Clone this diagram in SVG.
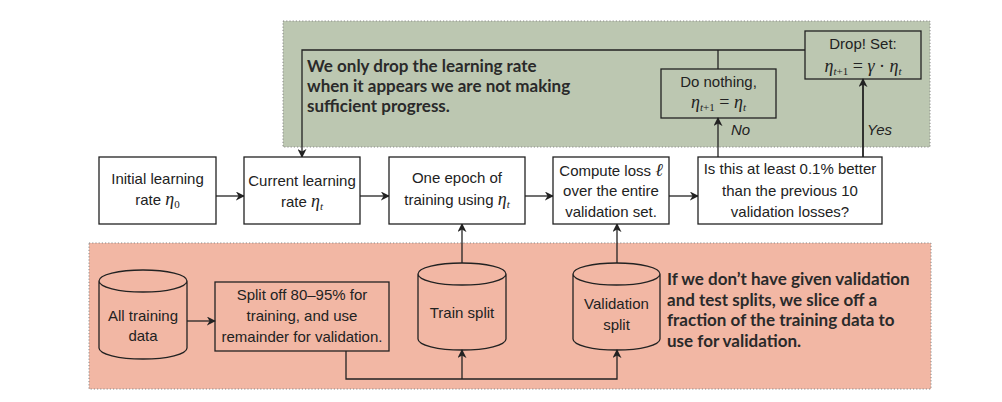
<svg xmlns="http://www.w3.org/2000/svg" width="1002" height="402" viewBox="0 0 1002 402">
<style>
.t{font-family:"Liberation Sans",Arial,sans-serif;font-size:15px;fill:#222;text-anchor:middle}
.m{font-family:"Liberation Serif","Times New Roman",serif;font-style:italic;font-size:18px}
.s{font-family:"Liberation Serif","Times New Roman",serif;font-size:11px}
.si{font-family:"Liberation Serif","Times New Roman",serif;font-style:italic;font-size:11px}
.eq{font-family:"Liberation Serif","Times New Roman",serif;font-size:18px}
.b{font-family:Lato,"Open Sans",sans-serif;font-weight:bold;font-size:17px;fill:#2a2a2a}
.box{fill:#fff;stroke:#222;stroke-width:1.3}
.ibox{fill:none;stroke:#222;stroke-width:1.3}
.ln{fill:none;stroke:#222;stroke-width:1.3}
.arr{fill:none;stroke:#222;stroke-width:1.3;marker-end:url(#ah)}
.lbl{font-family:"Liberation Sans",Arial,sans-serif;font-size:15px;font-style:italic;fill:#222}
</style>
<defs>
<marker id="ah" viewBox="0 0 10 10" refX="9" refY="5" markerWidth="9" markerHeight="9" markerUnits="userSpaceOnUse" orient="auto">
<path d="M0,0 L10,5 L0,10 L3,5 Z" fill="#222"/>
</marker>
</defs>
<rect width="1002" height="402" fill="#fff"/>
<g id="green-region">
<rect x="283" y="21" width="647" height="126" fill="#bcc7b1" stroke="#888" stroke-width="1" stroke-dasharray="1.2,2"/>
<text class="b" x="307" y="72">We only drop the learning rate</text>
<text class="b" x="307" y="92">when it appears we are not making</text>
<text class="b" x="307" y="112">sufficient progress.</text>
</g>
<g id="red-region">
<rect x="89" y="243" width="842" height="146" fill="#f2b7a4" stroke="#888" stroke-width="1" stroke-dasharray="1.2,2"/>
<text class="b" x="667" y="285">If we don’t have given validation</text>
<text class="b" x="667" y="306">and test splits, we slice off a</text>
<text class="b" x="667" y="326">fraction of the training data to</text>
<text class="b" x="667" y="347">use for validation.</text>
</g>
<g id="connectors">
<polyline class="arr" points="805,50 302,50 302,157"/>
<line class="ln" x1="718" y1="50" x2="718" y2="69"/>
<line class="arr" x1="718" y1="157" x2="718" y2="118"/>
<line class="arr" x1="863" y1="157" x2="863" y2="79" style="stroke-width:1.8"/>
<text class="lbl" x="731" y="135">No</text>
<text class="lbl" x="867" y="135">Yes</text>
<line class="arr" x1="216" y1="196" x2="244" y2="196"/>
<line class="arr" x1="360" y1="196" x2="389" y2="196"/>
<line class="arr" x1="525" y1="196" x2="553" y2="196"/>
<line class="arr" x1="669" y1="196" x2="698" y2="196"/>
<line class="arr" x1="462" y1="263" x2="462" y2="224"/>
<line class="arr" x1="617" y1="263" x2="617" y2="224"/>
<line class="arr" x1="187" y1="321" x2="215" y2="321"/>
<polyline class="arr" points="346,351 346,379 617,379 617,350"/>
<line class="arr" x1="462" y1="379" x2="462" y2="350"/>
</g>
<g id="drop">
<rect class="ibox" x="805" y="31" width="116" height="48"/>
<text class="t" x="863" y="49">Drop! Set:</text>
<text class="t" x="863" y="72"><tspan class="m">η</tspan><tspan class="si" dy="3">t</tspan><tspan class="s">+1</tspan><tspan class="eq" dy="-3"> = </tspan><tspan class="m">γ</tspan><tspan class="eq"> · </tspan><tspan class="m">η</tspan><tspan class="si" dy="3">t</tspan></text>
</g>
<g id="donothing">
<rect class="ibox" x="661" y="69" width="115" height="49"/>
<text class="t" x="718.5" y="87">Do nothing,</text>
<text class="t" x="718.5" y="108"><tspan class="m">η</tspan><tspan class="si" dy="3">t</tspan><tspan class="s">+1</tspan><tspan class="eq" dy="-3"> = </tspan><tspan class="m">η</tspan><tspan class="si" dy="3">t</tspan></text>
</g>
<g id="initial">
<rect class="box" x="99" y="157" width="117" height="67"/>
<text class="t" x="157.5" y="184">Initial learning</text>
<text class="t" x="157.5" y="205">rate <tspan class="m">η</tspan><tspan class="s" dy="3">0</tspan></text>
</g>
<g id="current">
<rect class="box" x="244" y="157" width="116" height="67"/>
<text class="t" x="302" y="186">Current learning</text>
<text class="t" x="302" y="207">rate <tspan class="m">η</tspan><tspan class="si" dy="3">t</tspan></text>
</g>
<g id="epoch">
<rect class="box" x="389" y="157" width="136" height="67"/>
<text class="t" x="457" y="183">One epoch of</text>
<text class="t" x="457" y="205">training using <tspan class="m">η</tspan><tspan class="si" dy="3">t</tspan></text>
</g>
<g id="compute">
<rect class="box" x="553" y="157" width="116" height="67"/>
<text class="t" x="611" y="176">Compute loss <tspan class="m">ℓ</tspan></text>
<text class="t" x="611" y="196">over the entire</text>
<text class="t" x="611" y="217">validation set.</text>
</g>
<g id="decision">
<rect class="box" x="698" y="157" width="184" height="67"/>
<text class="t" x="790" y="174">Is this at least 0.1% better</text>
<text class="t" x="790" y="196">than the previous 10</text>
<text class="t" x="790" y="217">validation losses?</text>
</g>
<g id="alltraining">
<path class="ln" d="M99,281 A44,11 0 0 1 187,281 A44,11 0 0 1 99,281 Z M99,281 L99,348 A44,11 0 0 0 187,348 L187,281"/>
<text class="t" x="143" y="321">All training</text>
<text class="t" x="143" y="341">data</text>
</g>
<g id="split">
<rect class="ibox" x="215" y="282" width="174" height="69"/>
<text class="t" x="302" y="300">Split off 80–95% for</text>
<text class="t" x="302" y="321">training, and use</text>
<text class="t" x="302" y="342">remainder for validation.</text>
</g>
<g id="trainsplit">
<path class="ln" d="M418,274 A44,11 0 0 1 506,274 A44,11 0 0 1 418,274 Z M418,274 L418,339 A44,11 0 0 0 506,339 L506,274"/>
<text class="t" x="462" y="318">Train split</text>
</g>
<g id="valsplit">
<path class="ln" d="M573,274 A43.5,11 0 0 1 660,274 A43.5,11 0 0 1 573,274 Z M573,274 L573,339 A43.5,11 0 0 0 660,339 L660,274"/>
<text class="t" x="616.5" y="309">Validation</text>
<text class="t" x="616.5" y="330">split</text>
</g>
</svg>
